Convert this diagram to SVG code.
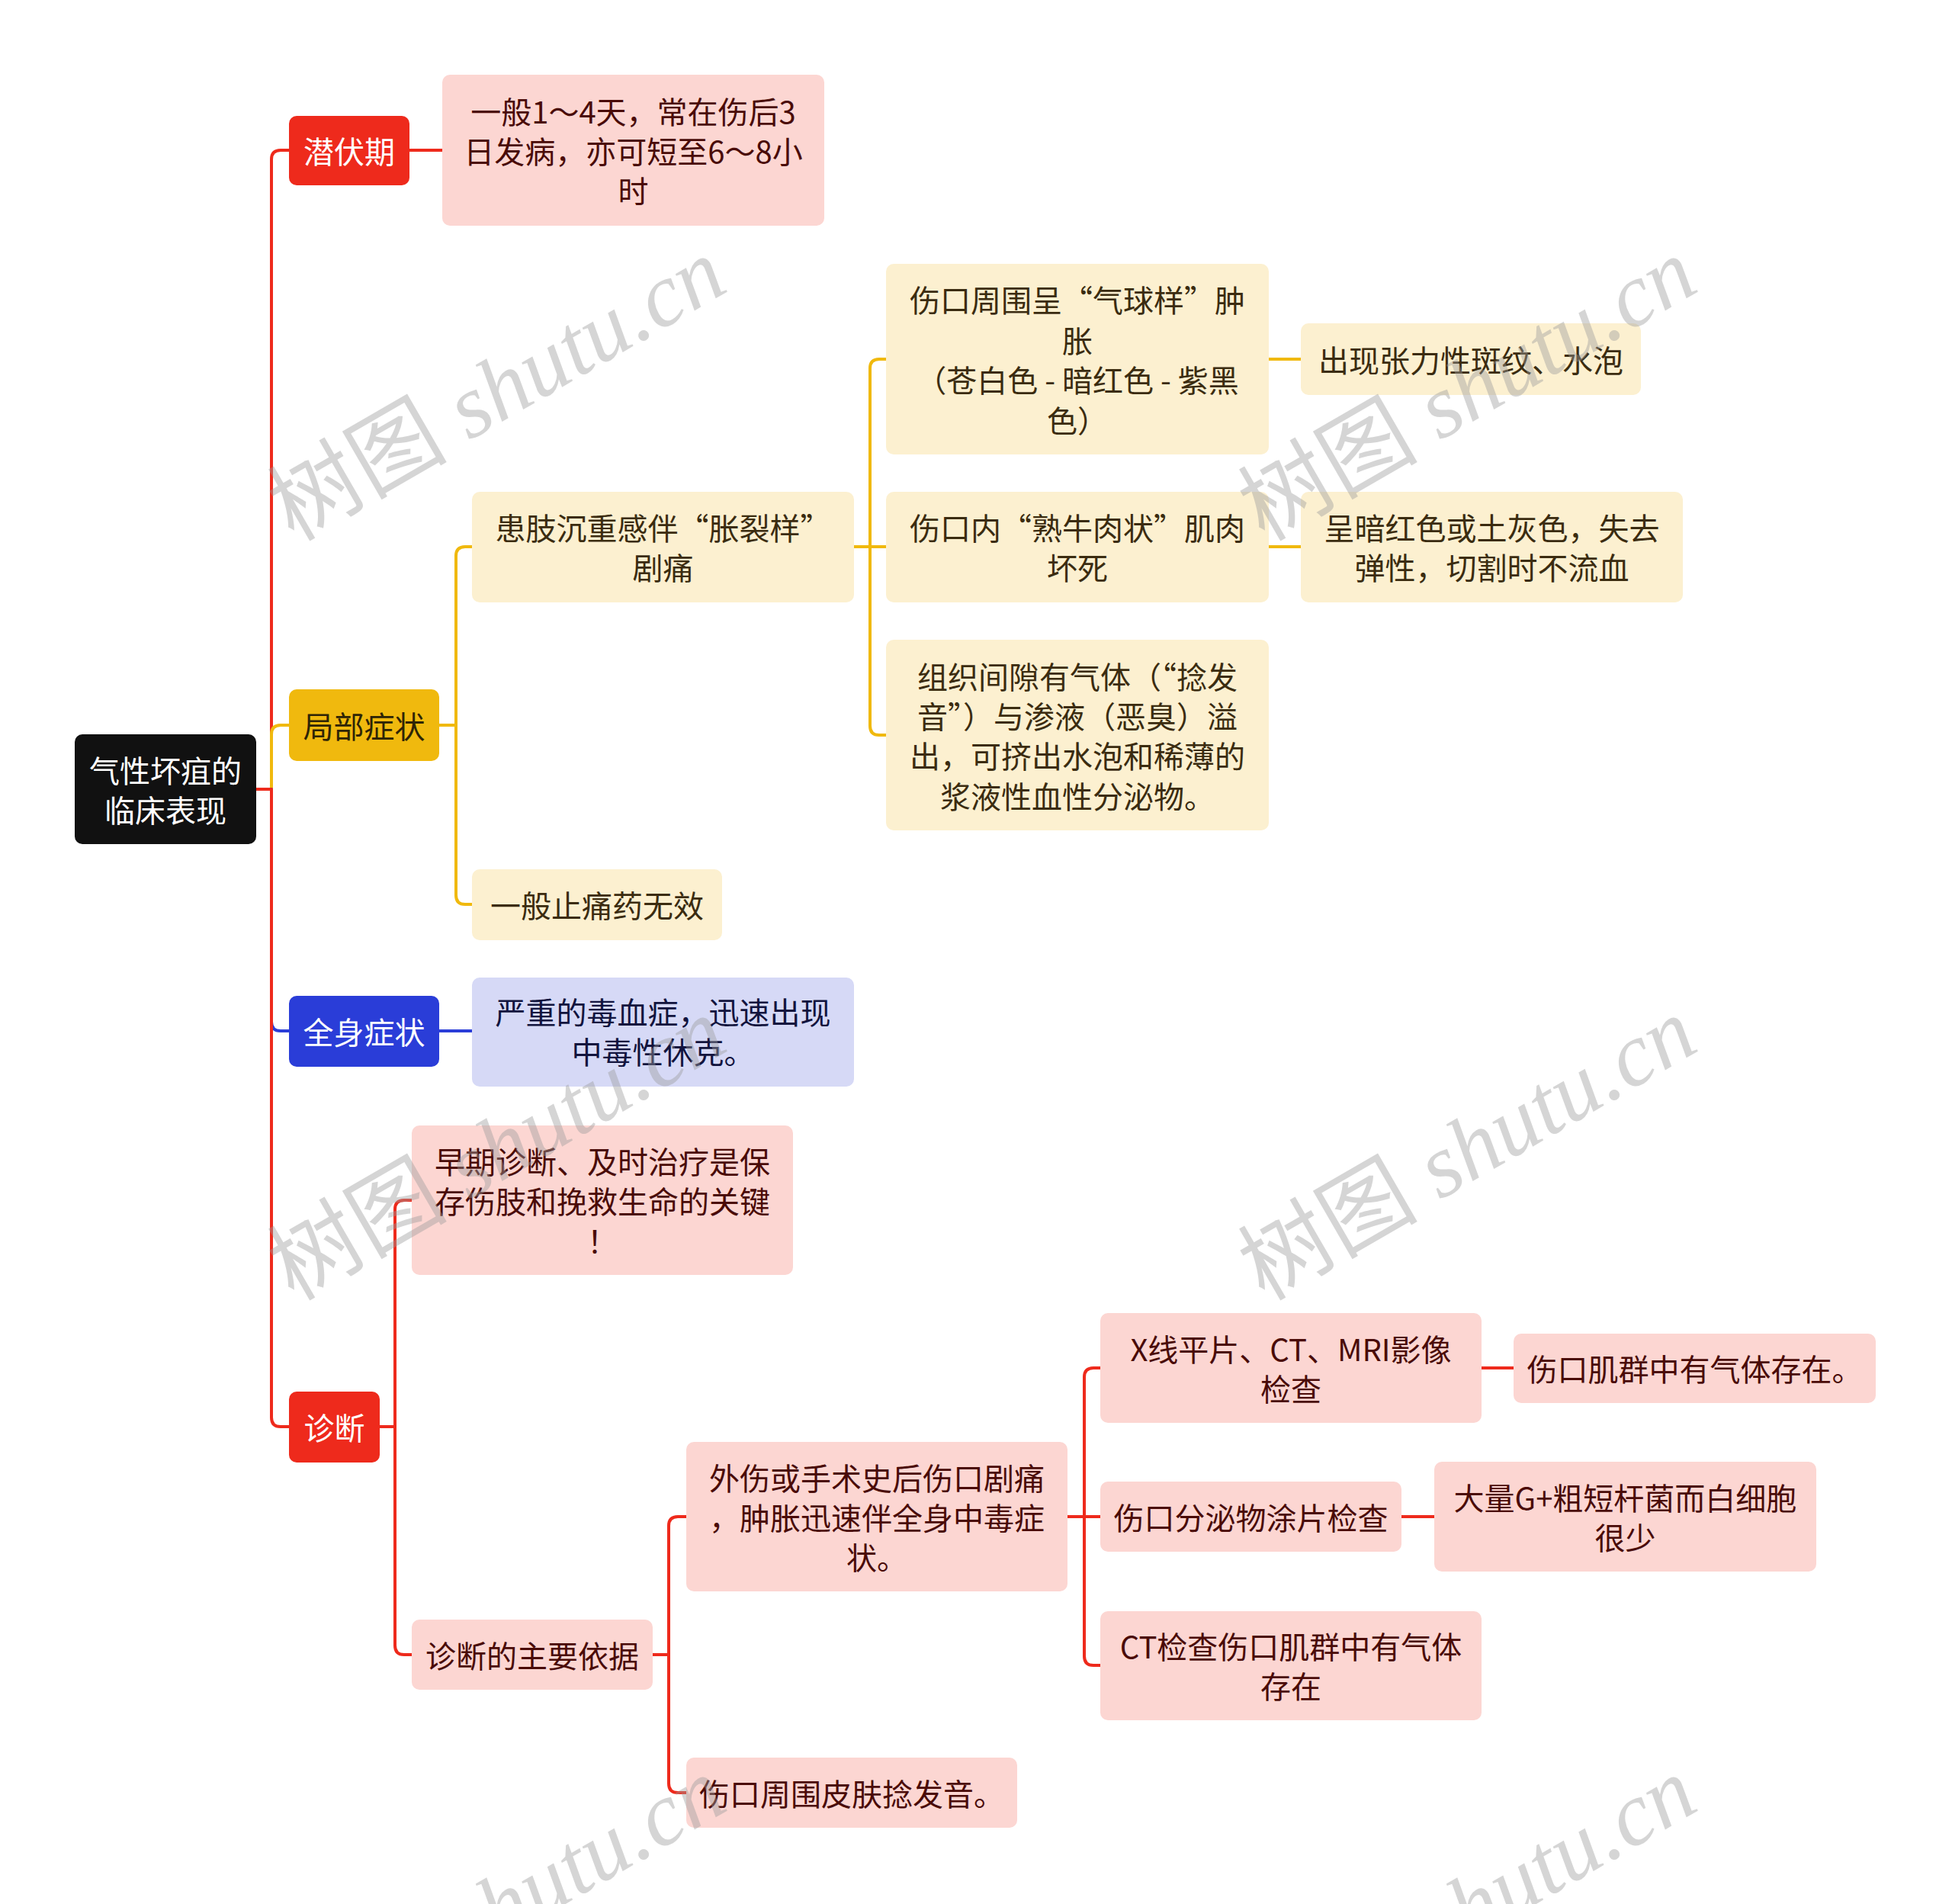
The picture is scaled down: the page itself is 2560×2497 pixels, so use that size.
<svg xmlns="http://www.w3.org/2000/svg" width="2560" height="2497" viewBox="0 0 2560 2497">
<style>
text{font-family:"Noto Sans CJK SC","Noto Sans",sans-serif;font-size:40px;text-anchor:middle;dominant-baseline:central}
.root{fill:#111111}
.red{fill:#ee2a1c}
.yel{fill:#f0b90e}
.blu{fill:#2a3dd8}
.pink{fill:#fcd6d2}
.lyel{fill:#fcf0d0}
.lblu{fill:#d6d9f6}
.tw{fill:#ffffff}
.tpk{fill:#4a0b08}
.tyl{fill:#3b2c10}
.tyd{fill:#2e2406}
.tbl{fill:#12143e}
.c{fill:none;stroke-width:4;stroke-linecap:round;stroke-linejoin:round}
.cr{stroke:#ee2a1c}
.cy{stroke:#f0b90e}
.cb{stroke:#2a3dd8}
.wm{fill:#9a9a9a;fill-opacity:0.42;font-size:118px;text-anchor:start;dominant-baseline:alphabetic}
.wm .lat{font-family:"Liberation Serif",serif;font-style:italic}
.wm .cjk{font-family:"Noto Sans CJK SC",serif}
</style>
<rect width="2560" height="2497" fill="#ffffff"/>
<g id="connectors">
<path class="c cr" d="M336 1035H356V209Q356 197 368 197H379"/>
<path class="c cy" d="M336 1035H356V963Q356 951 368 951H379"/>
<path class="c cb" d="M336 1035H356V1340Q356 1352 368 1352H379"/>
<path class="c cr" d="M336 1035H356V1859Q356 1871 368 1871H379"/>
<path class="c cr" d="M537 197H580"/>
<path class="c cy" d="M576 951H598V729Q598 717 610 717H619"/>
<path class="c cy" d="M576 951H598V1174Q598 1186 610 1186H619"/>
<path class="c cy" d="M1120 717H1141V483Q1141 471 1153 471H1162"/>
<path class="c cy" d="M1120 717H1162"/>
<path class="c cy" d="M1120 717H1141V952Q1141 964 1153 964H1162"/>
<path class="c cy" d="M1664 471H1706"/>
<path class="c cy" d="M1664 717H1706"/>
<path class="c cb" d="M576 1352H619"/>
<path class="c cr" d="M498 1871H518V1586Q518 1574 530 1574H540"/>
<path class="c cr" d="M498 1871H518V2158Q518 2170 530 2170H540"/>
<path class="c cr" d="M856 2170H877V2001Q877 1989 889 1989H900"/>
<path class="c cr" d="M856 2170H877V2339Q877 2351 889 2351H900"/>
<path class="c cr" d="M1400 1989H1422V1806Q1422 1794 1434 1794H1443"/>
<path class="c cr" d="M1400 1989H1443"/>
<path class="c cr" d="M1400 1989H1422V2172Q1422 2184 1434 2184H1443"/>
<path class="c cr" d="M1943 1794H1985"/>
<path class="c cr" d="M1838 1989H1881"/>
</g>
<g id="root"><rect class="root" x="98" y="963" width="238" height="144" rx="10"/><text class="tw" x="217" y="1009">气性坏疽的</text><text class="tw" x="217" y="1061">临床表现</text></g>
<g id="n-qianfu"><rect class="red" x="379" y="152" width="158" height="91" rx="10"/><text class="tw" x="458" y="197">潜伏期</text></g>
<g id="n-qianfu-1"><rect class="pink" x="580" y="98" width="501" height="198" rx="10"/><text class="tpk" x="830.5" y="145">一般1～4天，常在伤后3</text><text class="tpk" x="830.5" y="197">日发病，亦可短至6～8小</text><text class="tpk" x="830.5" y="249">时</text></g>
<g id="n-jubu"><rect class="yel" x="379" y="904" width="197" height="94" rx="10"/><text class="tyd" x="477.5" y="951">局部症状</text></g>
<g id="n-huanzhi"><rect class="lyel" x="619" y="645" width="501" height="145" rx="10"/><text class="tyl" x="869.5" y="691">患肢沉重感伴“胀裂样”</text><text class="tyl" x="869.5" y="743">剧痛</text></g>
<g id="n-zhitong"><rect class="lyel" x="619" y="1140" width="328" height="93" rx="10"/><text class="tyl" x="783" y="1186">一般止痛药无效</text></g>
<g id="n-qiqiu"><rect class="lyel" x="1162" y="346" width="502" height="250" rx="10"/><text class="tyl" x="1413" y="392">伤口周围呈“气球样”肿</text><text class="tyl" x="1413" y="445">胀</text><text class="tyl" x="1413" y="497">（苍白色 - 暗红色 - 紫黑</text><text class="tyl" x="1413" y="550">色）</text></g>
<g id="n-shuniu"><rect class="lyel" x="1162" y="645" width="502" height="145" rx="10"/><text class="tyl" x="1413" y="691">伤口内“熟牛肉状”肌肉</text><text class="tyl" x="1413" y="743">坏死</text></g>
<g id="n-qiti"><rect class="lyel" x="1162" y="839" width="502" height="250" rx="10"/><text class="tyl" x="1413" y="886">组织间隙有气体（“捻发</text><text class="tyl" x="1413" y="938">音”）与渗液（恶臭）溢</text><text class="tyl" x="1413" y="990">出，可挤出水泡和稀薄的</text><text class="tyl" x="1413" y="1043">浆液性血性分泌物。</text></g>
<g id="n-zhangli"><rect class="lyel" x="1706" y="424" width="446" height="94" rx="10"/><text class="tyl" x="1929" y="471">出现张力性斑纹、水泡</text></g>
<g id="n-anhong"><rect class="lyel" x="1706" y="645" width="501" height="145" rx="10"/><text class="tyl" x="1956.5" y="691">呈暗红色或土灰色，失去</text><text class="tyl" x="1956.5" y="743">弹性，切割时不流血</text></g>
<g id="n-quanshen"><rect class="blu" x="379" y="1306" width="197" height="93" rx="10"/><text class="tw" x="477.5" y="1352">全身症状</text></g>
<g id="n-duxue"><rect class="lblu" x="619" y="1282" width="501" height="143" rx="10"/><text class="tbl" x="869.5" y="1326">严重的毒血症，迅速出现</text><text class="tbl" x="869.5" y="1378">中毒性休克。</text></g>
<g id="n-zhenduan"><rect class="red" x="379" y="1825" width="119" height="93" rx="10"/><text class="tw" x="438.5" y="1871">诊断</text></g>
<g id="n-zaoqi"><rect class="pink" x="540" y="1476" width="500" height="196" rx="10"/><text class="tpk" x="790" y="1522">早期诊断、及时治疗是保</text><text class="tpk" x="790" y="1574">存伤肢和挽救生命的关键</text><text class="tpk" x="790" y="1626">！</text></g>
<g id="n-yiju"><rect class="pink" x="540" y="2124" width="316" height="92" rx="10"/><text class="tpk" x="698" y="2170">诊断的主要依据</text></g>
<g id="n-waishang"><rect class="pink" x="900" y="1891" width="500" height="196" rx="10"/><text class="tpk" x="1150" y="1937">外伤或手术史后伤口剧痛</text><text class="tpk" x="1150" y="1989">，肿胀迅速伴全身中毒症</text><text class="tpk" x="1150" y="2041">状。</text></g>
<g id="n-nianfa"><rect class="pink" x="900" y="2305" width="434" height="92" rx="10"/><text class="tpk" x="1117" y="2351">伤口周围皮肤捻发音。</text></g>
<g id="n-xxian"><rect class="pink" x="1443" y="1722" width="500" height="144" rx="10"/><text class="tpk" x="1693" y="1768">X线平片、CT、MRI影像</text><text class="tpk" x="1693" y="1820">检查</text></g>
<g id="n-tupian"><rect class="pink" x="1443" y="1943" width="395" height="92" rx="10"/><text class="tpk" x="1640.5" y="1989">伤口分泌物涂片检查</text></g>
<g id="n-ct"><rect class="pink" x="1443" y="2113" width="500" height="143" rx="10"/><text class="tpk" x="1693" y="2158">CT检查伤口肌群中有气体</text><text class="tpk" x="1693" y="2210">存在</text></g>
<g id="n-jiqun"><rect class="pink" x="1985" y="1749" width="475" height="91" rx="10"/><text class="tpk" x="2222.5" y="1794">伤口肌群中有气体存在。</text></g>
<g id="n-daliang"><rect class="pink" x="1881" y="1917" width="501" height="144" rx="10"/><text class="tpk" x="2131.5" y="1963">大量G+粗短杆菌而白细胞</text><text class="tpk" x="2131.5" y="2015">很少</text></g>
<g id="watermarks">
<text class="wm" transform="translate(385 711) rotate(-30)"><tspan class="cjk">树图</tspan><tspan class="lat"> shutu.cn</tspan></text>
<text class="wm" transform="translate(1658 711) rotate(-30)"><tspan class="cjk">树图</tspan><tspan class="lat"> shutu.cn</tspan></text>
<text class="wm" transform="translate(385 1707) rotate(-30)"><tspan class="cjk">树图</tspan><tspan class="lat"> shutu.cn</tspan></text>
<text class="wm" transform="translate(1658 1707) rotate(-30)"><tspan class="cjk">树图</tspan><tspan class="lat"> shutu.cn</tspan></text>
<text class="wm" transform="translate(385 2703) rotate(-30)"><tspan class="cjk">树图</tspan><tspan class="lat"> shutu.cn</tspan></text>
<text class="wm" transform="translate(1658 2703) rotate(-30)"><tspan class="cjk">树图</tspan><tspan class="lat"> shutu.cn</tspan></text>
</g>
</svg>
